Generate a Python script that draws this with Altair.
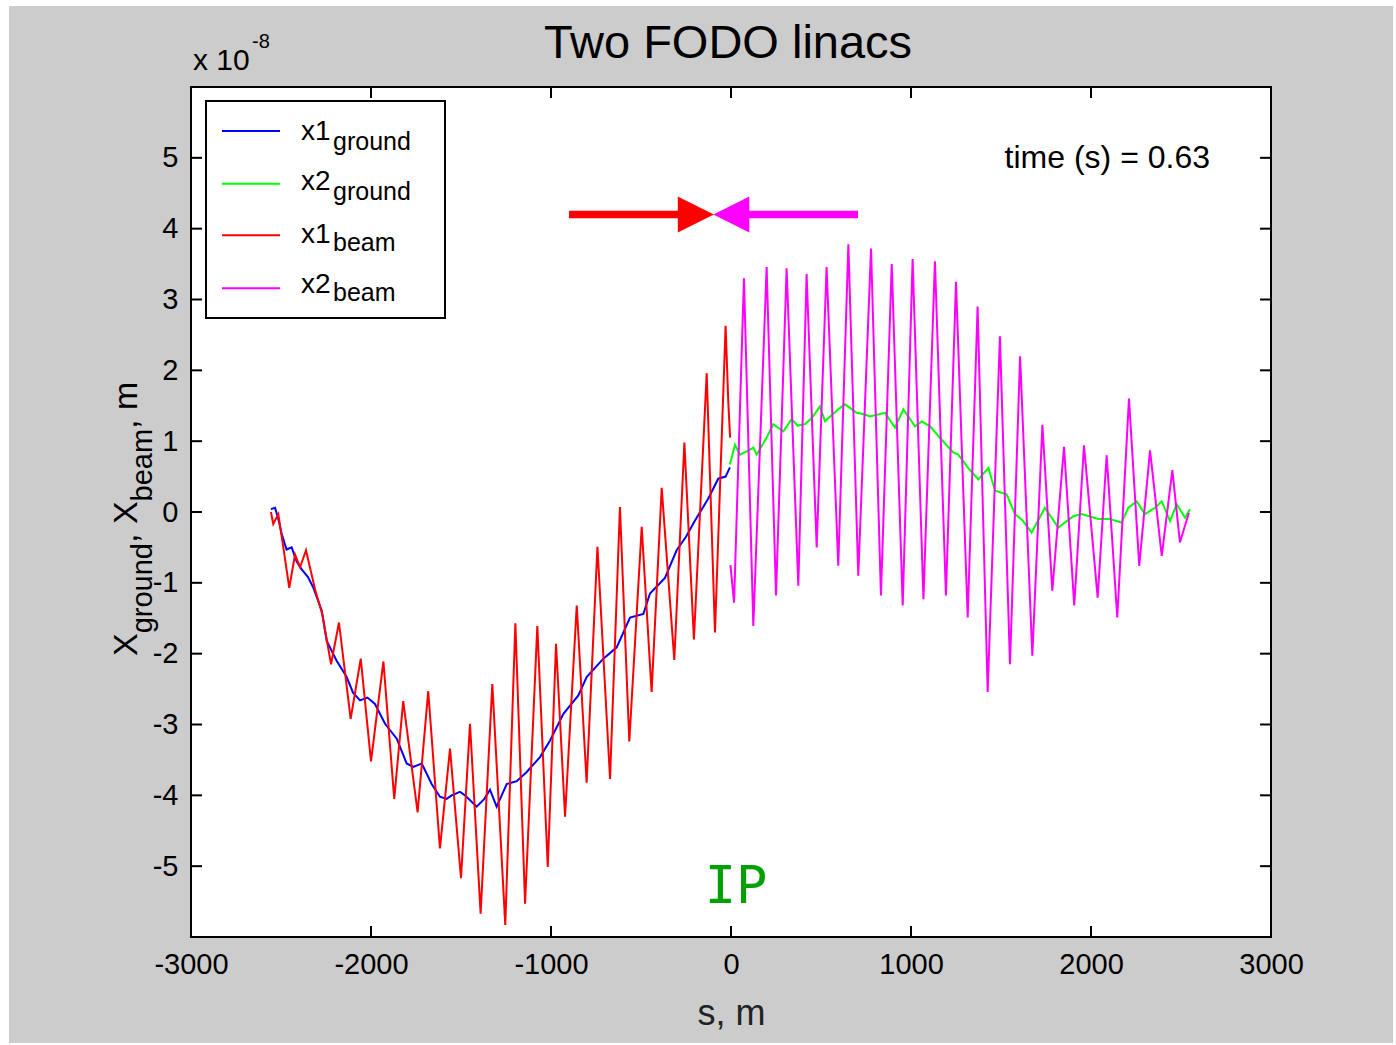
import altair as alt
import pandas as pd

# ---------------- data (s in m, displacement in units of 1e-8 m) ----------------
s_x1_ground = [-2556, -2533, -2515, -2496, -2469, -2441, -2413, -2385, -2350, -2320,
               -2274, -2246, -2191, -2135, -2100, -2061, -2020, -1978, -1922,
               -1857, -1802, -1765, -1718, -1663, -1617, -1580, -1552, -1506, -1478,
               -1413, -1370, -1339, -1302, -1246, -1190, -1135, -1061, -1006, -931,
               -848, -802, -709, -635, -561, -487, -450, -367, -302, -250,
               -200, -126, -71, -30, -6]
x1_ground = [0.04, 0.06, -0.10, -0.31, -0.53, -0.50, -0.70, -0.81, -0.92, -1.07,
             -1.39, -1.82, -2.10, -2.33, -2.55, -2.66, -2.62, -2.71, -2.99,
             -3.20, -3.55, -3.60, -3.55, -3.84, -4.02, -4.05, -4.00, -3.95, -4.00,
             -4.16, -4.05, -3.92, -4.16, -3.84, -3.80, -3.67, -3.46, -3.23, -2.85,
             -2.59, -2.33, -2.07, -1.91, -1.49, -1.44, -1.15, -0.93, -0.54, -0.35,
             -0.12, 0.19, 0.47, 0.50, 0.63]

s_x2_ground = [-6, 22, 50, 90, 124, 143, 198, 235, 291, 337, 370, 411, 450, 494, 522,
               596, 633, 698, 740, 772, 856, 911, 957, 1022, 1060, 1106, 1170, 1235,
               1263, 1318, 1374, 1430, 1467, 1531, 1578, 1620, 1670, 1744, 1818, 1902,
               1948, 2041, 2106, 2170, 2207, 2254, 2300, 2356, 2393, 2439, 2476, 2522, 2550]
x2_ground = [0.67, 0.95, 0.81, 0.86, 0.91, 0.81, 1.05, 1.24, 1.14, 1.31, 1.22, 1.24, 1.33, 1.49, 1.28,
             1.45, 1.52, 1.40, 1.38, 1.35, 1.40, 1.19, 1.45, 1.21, 1.28, 1.21, 1.02, 0.84,
             0.81, 0.62, 0.46, 0.62, 0.30, 0.25, -0.03, -0.12, -0.29, 0.06, -0.22, -0.06,
             -0.03, -0.10, -0.10, -0.15, 0.06, 0.15, -0.03, 0.06, 0.15, -0.13, 0.11, -0.08, 0.04]

s_x1_beam = [-2556, -2543, -2515, -2490, -2454, -2422, -2394, -2361, -2310, -2270,
             -2222, -2178, -2113, -2057, -2000, -1931, -1871, -1821, -1741, -1682,
             -1617, -1561, -1500, -1450, -1391, -1326, -1254, -1198, -1144, -1076,
             -1018, -972, -922, -857, -802, -742, -672, -617, -565, -496,
             -441, -385, -315, -259, -206, -135, -89, -30, -15, -5]
x1_beam = [0.0, -0.17, -0.03, -0.45, -1.07, -0.60, -0.78, -0.54, -1.10, -1.45,
           -2.15, -1.56, -2.92, -2.07, -3.52, -2.11, -4.05, -2.67, -4.24, -2.53,
           -4.75, -3.34, -5.17, -2.99, -5.67, -2.43, -5.83, -1.57, -5.53, -1.61,
           -5.01, -1.86, -4.30, -1.32, -3.82, -0.49, -3.77, 0.07, -3.24, -0.21,
           -2.54, 0.34, -2.09, 0.98, -1.80, 1.96, -1.70, 2.63, 1.55, 1.05]

s_x2_beam = [-3, 17, 72, 124, 198, 250, 309, 374, 420, 476, 531, 596, 652, 707, 778,
             833, 893, 954, 1009, 1069, 1133, 1194, 1250, 1315, 1370, 1426, 1494, 1550,
             1606, 1674, 1730, 1785, 1850, 1907, 1961, 2037, 2087, 2146, 2211, 2268,
             2328, 2393, 2452, 2494, 2544]
x2_beam = [-0.75, -1.28, 3.30, -1.61, 3.46, -1.18, 3.44, -1.04, 3.36, -0.50, 3.46, -0.76, 3.78, -0.90, 3.72,
           -1.18, 3.50, -1.32, 3.57, -1.23, 3.54, -1.18, 3.25, -1.49, 2.90, -2.54, 2.48, -2.15,
           2.20, -2.03, 1.23, -1.11, 0.92, -1.32, 0.94, -1.21, 0.80, -1.49, 1.60, -0.76,
           0.87, -0.62, 0.59, -0.43, -0.01]

x_ticks = [-3000, -2000, -1000, 0, 1000, 2000, 3000]
y_ticks = [-5, -4, -3, -2, -1, 0, 1, 2, 3, 4, 5]

legend_main = ["x1", "x2", "x1", "x2"]
legend_sub = ["ground", "ground", "beam", "beam"]
legend_colors = ["#0000FF", "#00FF00", "#FF0000", "#FF00FF"]

title_text = "Two FODO linacs"
x_title = "s, m"
time_text = "time (s) = 0.63"
ip_text = "IP"

# ---------------- geometry helpers ----------------
W, H = 1080, 850
X_DOM = [-3000, 3000]
Y_DOM = [-6, 6]
PX = (X_DOM[1] - X_DOM[0]) / W     # data units per pixel (x)
PY = (Y_DOM[1] - Y_DOM[0]) / H     # data units per pixel (y)


def sx(px):  # page pixel -> s
    return X_DOM[0] + (px - 191) * PX


def sy(py):  # page pixel -> y value
    return Y_DOM[1] - (py - 87) * PY


xs = alt.Scale(domain=X_DOM, nice=False, zero=False)
ys = alt.Scale(domain=Y_DOM, nice=False, zero=False)
FONT = "Liberation Sans"

x_axis = alt.Axis(values=x_ticks, labelExpr="'' + datum.value", labelFontSize=29,
                  labelFont=FONT, labelColor="black", labelPadding=13, ticks=False,
                  domain=False, grid=False, title=x_title, titleFont=FONT,
                  titleFontSize=36, titleFontWeight="normal", titleColor="#222222",
                  titlePadding=17, labelFlush=False, labelOverlap=False, zindex=2)
y_axis = alt.Axis(values=y_ticks, labelExpr="'' + datum.value", labelFontSize=29,
                  labelFont=FONT, labelColor="black", labelPadding=13, ticks=False,
                  domain=False, grid=False, title=None, labelOverlap=False, zindex=2)


def XE(field="s"):
    return alt.X(f"{field}:Q", scale=xs, axis=x_axis)


def YE(field="v"):
    return alt.Y(f"{field}:Q", scale=ys, axis=y_axis)


# ---------------- figure panel (grey) and axes box (white) ----------------
panel = alt.Chart(pd.DataFrame({"s": [sx(9)], "s2": [sx(1393)],
                                "v": [sy(6)], "v2": [sy(1043)]})).mark_rect(
    fill="#CCCCCC").encode(x=XE(), x2="s2:Q", y=YE(), y2="v2:Q")
axes_box = alt.Chart(pd.DataFrame({"s": [X_DOM[0]], "s2": [X_DOM[1]],
                                   "v": [Y_DOM[0]], "v2": [Y_DOM[1]]})).mark_rect(
    fill="white", stroke="black", strokeWidth=2).encode(x=XE(), x2="s2:Q", y=YE(), y2="v2:Q")


def series(s, v, color):
    df = pd.DataFrame({"s": s, "v": v})
    return alt.Chart(df).mark_line(color=color, strokeWidth=2, clip=True).encode(
        x=XE(), y=YE())


blue = series(s_x1_ground, x1_ground, "#0000FF")
green = series(s_x2_ground, x2_ground, "#00FF00")
red = series(s_x1_beam, x1_beam, "#FF0000")
magenta = series(s_x2_beam, x2_beam, "#FF00FF")

# ---------------- inward ticks on all four sides ----------------
tl_y = 11 * PY
tl_x = 11 * PX
inner_x = [t for t in x_ticks if X_DOM[0] < t < X_DOM[1]]
inner_y = [t for t in y_ticks if Y_DOM[0] < t < Y_DOM[1]]
xt = pd.DataFrame({
    "s": inner_x * 2,
    "v": [Y_DOM[0]] * len(inner_x) + [Y_DOM[1]] * len(inner_x),
    "v2": [Y_DOM[0] + tl_y] * len(inner_x) + [Y_DOM[1] - tl_y] * len(inner_x),
})
yt = pd.DataFrame({
    "s": [X_DOM[0]] * len(inner_y) + [X_DOM[1]] * len(inner_y),
    "s2": [X_DOM[0] + tl_x] * len(inner_y) + [X_DOM[1] - tl_x] * len(inner_y),
    "v": inner_y * 2,
})
xticks_l = alt.Chart(xt).mark_rule(color="black", strokeWidth=2).encode(
    x=XE(), y=YE(), y2="v2:Q")
yticks_l = alt.Chart(yt).mark_rule(color="black", strokeWidth=2).encode(
    x=XE(), x2="s2:Q", y=YE())

# ---------------- arrows ----------------
arrow_y = sy(214.5)
arr_lines = pd.DataFrame({
    "s": [sx(569), sx(749)], "s2": [sx(680), sx(858)],
    "v": [arrow_y, arrow_y], "c": ["#FF0000", "#FF00FF"],
})
arrow_rules = alt.Chart(arr_lines).mark_rule(strokeWidth=7.5, strokeCap="butt").encode(
    x=XE(), x2="s2:Q", y=YE(), color=alt.Color("c:N", scale=None))
head_r = alt.Chart(pd.DataFrame({"s": [sx(695.8)], "v": [arrow_y]})).mark_point(
    shape="M-1,-1L1,0L-1,1Z", size=1296, filled=True, fill="#FF0000",
    opacity=1).encode(x=XE(), y=YE())
head_m = alt.Chart(pd.DataFrame({"s": [sx(731.3)], "v": [arrow_y]})).mark_point(
    shape="M1,-1L-1,0L1,1Z", size=1296, filled=True, fill="#FF00FF",
    opacity=1).encode(x=XE(), y=YE())

# ---------------- legend (drawn by hand for subscripts) ----------------
leg_box = alt.Chart(pd.DataFrame({"s": [sx(206)], "s2": [sx(445)],
                                  "v": [sy(101)], "v2": [sy(318)]})).mark_rect(
    fill="white", stroke="black", strokeWidth=2).encode(
    x=XE(), x2="s2:Q", y=YE(), y2="v2:Q")
leg_line_py = [131, 183.7, 235.3, 288.3]
leg_lines = alt.Chart(pd.DataFrame({
    "s": [sx(222)] * 4, "s2": [sx(280)] * 4,
    "v": [sy(p) for p in leg_line_py], "c": legend_colors,
})).mark_rule(strokeWidth=2).encode(
    x=XE(), x2="s2:Q", y=YE(), color=alt.Color("c:N", scale=None))
leg_main = alt.Chart(pd.DataFrame({
    "s": [sx(301)] * 4, "v": [sy(p) for p in [140, 190, 243, 293]], "t": legend_main,
})).mark_text(align="left", baseline="alphabetic", fontSize=28, font=FONT,
              color="black").encode(x=XE(), y=YE(), text="t:N")
leg_sub = alt.Chart(pd.DataFrame({
    "s": [sx(333)] * 4, "v": [sy(p) for p in [150, 200, 251, 301]], "t": legend_sub,
})).mark_text(align="left", baseline="alphabetic", fontSize=25, font=FONT,
              color="black").encode(x=XE(), y=YE(), text="t:N")


# ---------------- annotations ----------------
def label(px, py, text, size, align="left", font=FONT, color="black", angle=0):
    return alt.Chart(pd.DataFrame({"s": [sx(px)], "v": [sy(py)], "t": [text]})).mark_text(
        align=align, baseline="alphabetic", fontSize=size, font=font, color=color,
        angle=angle).encode(x=XE(), y=YE(), text="t:N")


title_l = label(728, 58, title_text, 47, align="center")
time_l = label(1210, 168, time_text, 32, align="right")
ip_l = label(736, 903, ip_text, 52, align="center", font="DejaVu Sans Mono", color="#00A000")
exp_main = label(193, 70, "x 10", 30)
exp_sup = label(252, 48, "-8", 20)

# rotated y-axis title with subscripts: X_ground, X_beam, m
yt_main = alt.Chart(pd.DataFrame({
    "s": [sx(137)] * 3, "v": [sy(656), sy(543), sy(428.9)], "t": ["X", ", X", ", m"],
})).mark_text(align="left", baseline="alphabetic", angle=270, fontSize=34, font=FONT,
              color="black").encode(x=XE(), y=YE(), text="t:N")
yt_sub = alt.Chart(pd.DataFrame({
    "s": [sx(152)] * 2, "v": [sy(633.3), sy(501.4)], "t": ["ground", "beam"],
})).mark_text(align="left", baseline="alphabetic", angle=270, fontSize=29, font=FONT,
              color="black").encode(x=XE(), y=YE(), text="t:N")

chart = alt.layer(
    panel, axes_box,
    blue, green, red, magenta,
    xticks_l, yticks_l,
    arrow_rules, head_r, head_m,
    leg_box, leg_lines, leg_main, leg_sub,
    title_l, time_l, ip_l, exp_main, exp_sup, yt_main, yt_sub,
).properties(
    width=W, height=H,
    background="white",
    padding={"left": 191, "top": 87, "right": 125, "bottom": 108},
    autosize=alt.AutoSizeParams(type="none"),
).configure_view(stroke=None, fill="white")

chart.save("out.html", embed_options={"renderer": "svg", "actions": False})
